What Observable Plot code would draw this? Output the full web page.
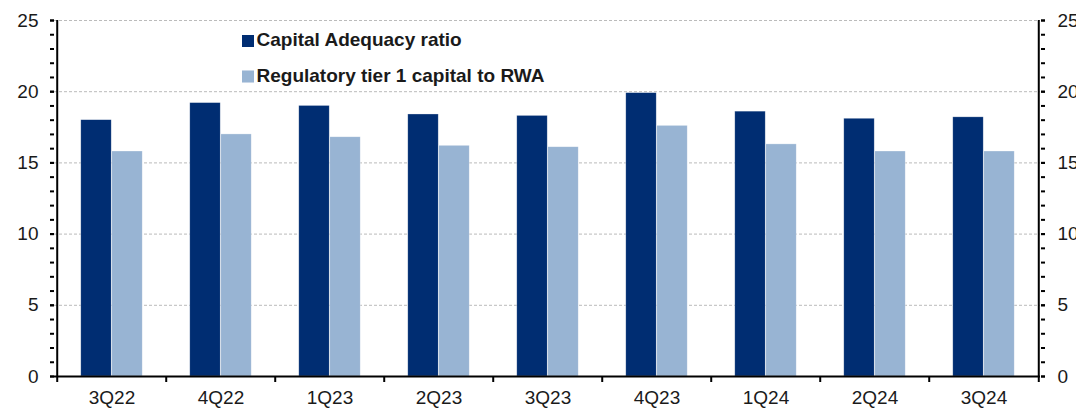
<!DOCTYPE html>
<html>
<head>
<meta charset="utf-8">
<script src="https://cdn.jsdelivr.net/npm/d3@7"></script>
<script src="https://cdn.jsdelivr.net/npm/@observablehq/plot@0.6"></script>
<style>
  html, body { margin: 0; padding: 0; background: #fff; }
  svg { display: block; }
</style>
</head>
<body>
<div id="chart"></div>
<script>
const categories = ["3Q22","4Q22","1Q23","2Q23","3Q23","4Q23","1Q24","2Q24","3Q24"];
const seriesNames = ["Capital Adequacy ratio", "Regulatory tier 1 capital to RWA"];
const capitalAdequacy = [18.0, 19.2, 19.0, 18.4, 18.3, 19.9, 18.6, 18.1, 18.2];
const tier1ToRWA = [15.8, 17.0, 16.8, 16.2, 16.1, 17.6, 16.3, 15.8, 15.8];
const majorTicks = [0, 5, 10, 15, 20, 25];
const minorTicks = d3.range(0, 26, 1);

const colors = ["#002D72", "#98B4D3"];
const W = 1076, H = 408, ML = 54, MR = 36, MT = 20, MB = 32;
const bw = (W - ML - MR) / categories.length;
const barW = 31;
const font = "'Liberation Sans', Arial, sans-serif";
const textColor = "#1a1a1a";

const rows = categories.map((c, i) => ({cat: c, a: capitalAdequacy[i], b: tier1ToRWA[i]}));

const legendMarks = seriesNames.flatMap((s, i) => [
  Plot.dot([s], {frameAnchor: "top-left", dx: 193.5, dy: 20.5 + 35.5 * i, symbol: "square", r: 6.8, fill: colors[i], stroke: null}),
  Plot.text([s], {frameAnchor: "top-left", dx: 202, dy: 19.5 + 35.5 * i, text: d => d, textAnchor: "start", lineAnchor: "middle",
    fontSize: 19, fontWeight: "bold", fill: textColor})
]);

const chart = Plot.plot({
  width: W, height: H,
  marginLeft: ML, marginRight: MR, marginTop: MT, marginBottom: MB,
  style: {fontFamily: font, fontSize: "19px", color: textColor, background: "#fff"},
  x: {domain: categories, padding: 0, axis: null},
  y: {domain: [0, 25], axis: null},
  marks: [
    Plot.gridY(majorTicks.filter(d => d > 0), {stroke: "#bbb", strokeOpacity: 1, strokeDasharray: "3,2", strokeWidth: 1}),
    Plot.barY(rows, {x: "cat", y: "a", fill: colors[0], insetLeft: bw/2 - barW, insetRight: bw/2, stroke: "#fff", strokeWidth: 0.6, strokeOpacity: 0.5}),
    Plot.barY(rows, {x: "cat", y: "b", fill: colors[1], insetLeft: bw/2, insetRight: bw/2 - barW, stroke: "#fff", strokeWidth: 0.6, strokeOpacity: 0.5}),
    Plot.ruleY([0], {stroke: "#000", strokeWidth: 2}),
    // category boundary ticks
    Plot.ruleX(categories, {x: d => d, dx: -bw/2, y1: 0, y2: 0, insetBottom: -6, stroke: "#000", strokeWidth: 2}),
    Plot.ruleX(categories.slice(-1), {x: d => d, dx: bw/2, y1: 0, y2: 0, insetBottom: -6, stroke: "#000", strokeWidth: 2}),
    // left and right axis lines
    Plot.ruleX(categories.slice(0, 1), {x: d => d, dx: -bw/2, y1: 0, y2: 25, stroke: "#000", strokeWidth: 2}),
    Plot.ruleX(categories.slice(-1), {x: d => d, dx: bw/2, y1: 0, y2: 25, stroke: "#000", strokeWidth: 2}),
    // x labels
    Plot.axisX({ticks: categories, tickSize: 0, tickPadding: 14, fontSize: 19, label: null, fill: textColor}),
    // left axis
    Plot.axisY({anchor: "left", ticks: minorTicks, tickFormat: () => "", tickSize: 4, strokeWidth: 2, stroke: "#000", label: null}),
    Plot.axisY({anchor: "left", ticks: majorTicks, tickSize: 4, tickPadding: 12, strokeWidth: 2, stroke: "#000", fontSize: 19, fill: textColor, label: null}),
    // right axis
    Plot.axisY({anchor: "right", ticks: minorTicks, tickFormat: () => "", tickSize: 4, strokeWidth: 2, stroke: "#000", label: null}),
    Plot.axisY({anchor: "right", ticks: majorTicks, tickSize: 4, tickPadding: 13, strokeWidth: 2, stroke: "#000", fontSize: 19, fill: textColor, label: null}),
    ...legendMarks
  ]
});

document.getElementById("chart").appendChild(chart);
</script>
</body>
</html>
